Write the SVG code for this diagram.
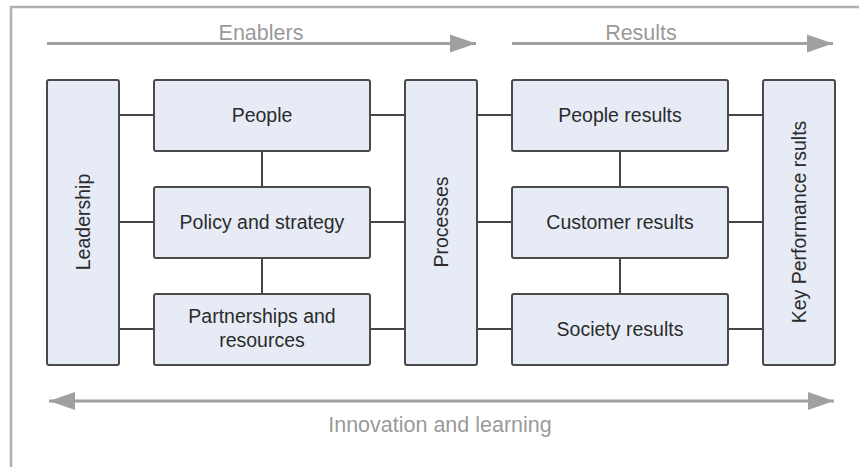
<svg xmlns="http://www.w3.org/2000/svg" width="859" height="467" viewBox="0 0 859 467">
<style>
.box{fill:#e6ebf5;stroke:#4a4a4a;stroke-width:2}
.lbl{font-family:"Liberation Sans",Arial,sans-serif;font-size:19.5px;fill:#2b2b2b;text-anchor:middle}
.glbl{font-family:"Liberation Sans",Arial,sans-serif;font-size:21.5px;fill:#9a9a9a;text-anchor:middle}
.conn{stroke:#444;stroke-width:2;fill:none}
.flow{stroke:#a0a0a0;stroke-width:3;fill:none}
</style>
<defs>
<marker id="ah" markerUnits="userSpaceOnUse" markerWidth="28" markerHeight="20" refX="26" refY="10" orient="auto-start-reverse">
<path d="M0,1 L26,10 L0,19 Z" fill="#a0a0a0"/>
</marker>
</defs>
<rect width="859" height="467" fill="#ffffff"/>
<polyline points="11,467 11,7 859,7" fill="none" stroke="#b0b0b0" stroke-width="2.5"/>

<g id="flows">
<line class="flow" x1="47" y1="43.5" x2="476" y2="43.5" marker-end="url(#ah)"/>
<line class="flow" x1="512" y1="43.5" x2="833" y2="43.5" marker-end="url(#ah)"/>
<line class="flow" x1="49" y1="401" x2="834" y2="401" marker-start="url(#ah)" marker-end="url(#ah)"/>
<text class="glbl" x="261" y="40">Enablers</text>
<text class="glbl" x="641" y="40">Results</text>
<text class="glbl" x="440" y="432">Innovation and learning</text>
</g>

<g id="connectors">
<path class="conn" d="M119,115H154 M119,222H154 M119,329H154"/>
<path class="conn" d="M370,115H405 M370,222H405 M370,329H405"/>
<path class="conn" d="M477,115H512 M477,222H512 M477,329H512"/>
<path class="conn" d="M728,115H763 M728,222H763 M728,329H763"/>
<path class="conn" d="M262,151V187 M262,258V294"/>
<path class="conn" d="M620,151V187 M620,258V294"/>
</g>

<g id="leadership">
<rect class="box" x="47" y="80" width="72" height="285" rx="2"/>
<text class="lbl" transform="translate(83,222) rotate(-90)" y="7">Leadership</text>
</g>
<g id="people">
<rect class="box" x="154" y="80" width="216" height="71" rx="2"/>
<text class="lbl" x="262" y="122">People</text>
</g>
<g id="policy">
<rect class="box" x="154" y="187" width="216" height="71" rx="2"/>
<text class="lbl" x="262" y="229">Policy and strategy</text>
</g>
<g id="partnerships">
<rect class="box" x="154" y="294" width="216" height="71" rx="2"/>
<text class="lbl" x="262" y="323">Partnerships and</text>
<text class="lbl" x="262" y="347">resources</text>
</g>
<g id="processes">
<rect class="box" x="405" y="80" width="72" height="285" rx="2"/>
<text class="lbl" transform="translate(441,222) rotate(-90)" y="7">Processes</text>
</g>
<g id="people-results">
<rect class="box" x="512" y="80" width="216" height="71" rx="2"/>
<text class="lbl" x="620" y="122">People results</text>
</g>
<g id="customer-results">
<rect class="box" x="512" y="187" width="216" height="71" rx="2"/>
<text class="lbl" x="620" y="229">Customer results</text>
</g>
<g id="society-results">
<rect class="box" x="512" y="294" width="216" height="71" rx="2"/>
<text class="lbl" x="620" y="336">Society results</text>
</g>
<g id="kpr">
<rect class="box" x="763" y="80" width="72" height="285" rx="2"/>
<text class="lbl" transform="translate(799,222) rotate(-90)" y="7">Key Performance rsults</text>
</g>
</svg>
